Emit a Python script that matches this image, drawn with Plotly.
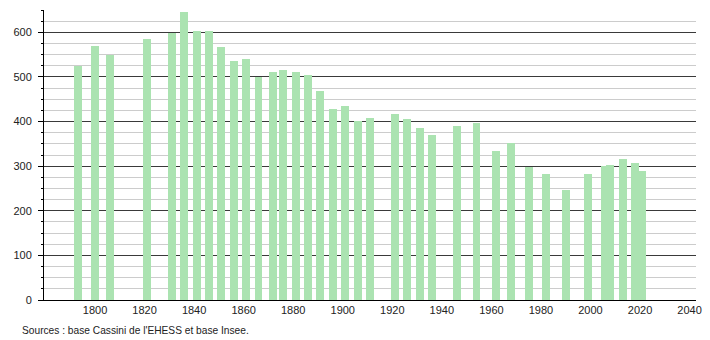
import plotly.graph_objects as go

years = [1793, 1800, 1806, 1821, 1831, 1836, 1841, 1846, 1851, 1856, 1861, 1866,
         1872, 1876, 1881, 1886, 1891, 1896, 1901, 1906, 1911, 1921, 1926, 1931,
         1936, 1946, 1954, 1962, 1968, 1975, 1982, 1990, 1999, 2006, 2008, 2013,
         2018, 2021]
population = [525, 569, 549, 586, 599, 645, 602, 602, 566, 535, 541, 500,
              511, 515, 511, 505, 468, 428, 434, 401, 407, 416, 405, 385,
              369, 389, 396, 335, 352, 298, 283, 247, 283, 300, 302, 317,
              306, 290]
x_ticks = [1800, 1820, 1840, 1860, 1880, 1900, 1920, 1940, 1960, 1980, 2000, 2020, 2040]
y_ticks = [0, 100, 200, 300, 400, 500, 600]
source_text = "Sources : base Cassini de l'EHESS et base Insee."

fig = go.Figure()
fig.add_trace(go.Bar(
    x=years, y=population, width=3.2,
    marker=dict(color="#abe3b1", line=dict(width=0)),
    hoverinfo="x+y",
))

font = dict(family="Liberation Sans, Arial, sans-serif", size=11, color="#222222")
small_font = dict(family="Liberation Sans, Arial, sans-serif", size=10.2, color="#222222")

fig.update_layout(
    width=710, height=340,
    margin=dict(l=44, r=8, t=10, b=40),
    paper_bgcolor="white", plot_bgcolor="white",
    showlegend=False, bargap=0,
    font=font,
    xaxis=dict(
        range=[1779.4, 2042.6],
        tickmode="array", tickvals=x_ticks, ticktext=[str(v) for v in x_ticks],
        showgrid=False, zeroline=False,
        showline=True, linecolor="black", linewidth=1,
        ticks="", tickfont=font,
    ),
    yaxis=dict(
        range=[0, 650],
        tickmode="array", tickvals=y_ticks,
        showgrid=True, gridcolor="#3a3a3a", gridwidth=1,
        zeroline=False,
        showline=True, linecolor="black", linewidth=1,
        ticks="outside", ticklen=5, tickcolor="black",
        tickfont=font, ticklabelstandoff=4,
        minor=dict(dtick=25, tick0=0, showgrid=True, gridcolor="#cccccc",
                   gridwidth=1, ticks="outside", ticklen=2, tickcolor="black"),
    ),
    annotations=[dict(
        text=source_text, xref="paper", yref="paper", x=0, y=0,
        xanchor="left", yanchor="middle", xshift=-24, yshift=-30,
        showarrow=False, font=small_font,
    )],
)

fig.write_html("out.html")
